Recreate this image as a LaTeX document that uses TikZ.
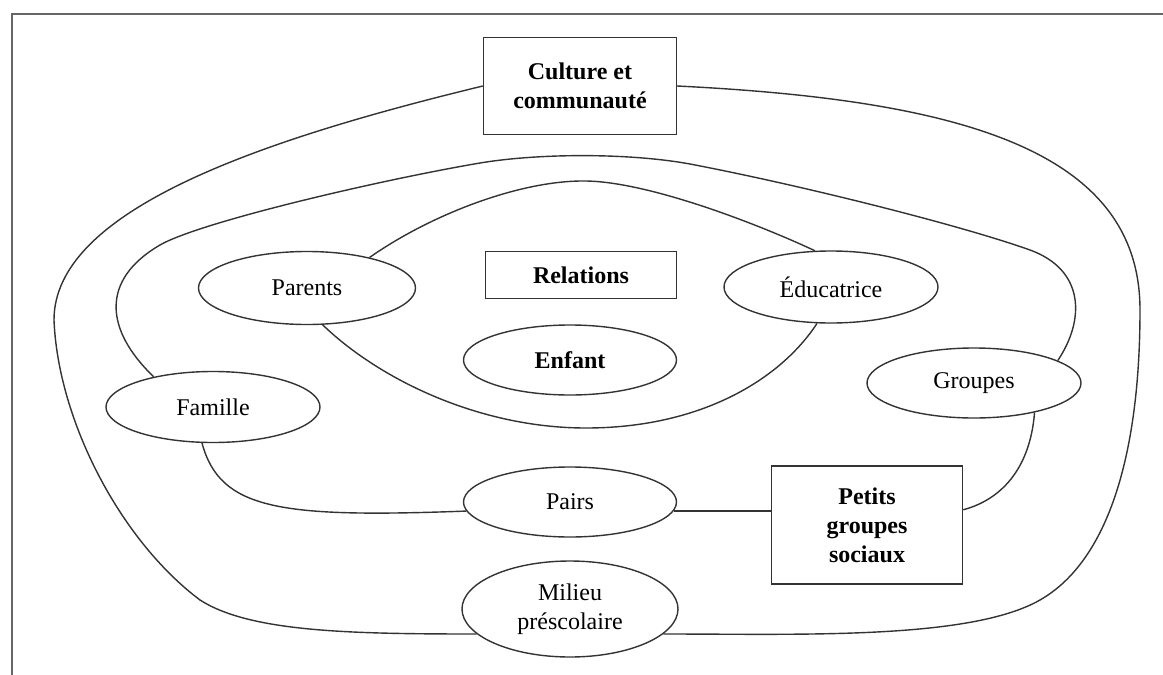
\documentclass[tikz,border=0pt]{standalone}
\usepackage{fontspec}
\setmainfont{Liberation Serif}
\usepackage{tikz}
\usetikzlibrary{shapes.geometric}

\begin{document}
\begin{tikzpicture}[x=0.5pt,y=-0.5pt,
		trait/.style={line width=0.7pt,draw=black!80},
		bulle/.style={trait,ellipse,inner sep=0pt,align=center,minimum width=107pt,minimum height=35.5pt,font=\fontsize{12}{14.5}\selectfont},
		cadre/.style={trait,rectangle,inner sep=0pt,align=center,font=\fontsize{12}{14.5}\selectfont\bfseries}]
	\useasboundingbox (0,0) rectangle (1163,675);
	\draw[trait,draw=black!60] (1163,14) -- (12,14) -- (12,675);

	\node[cadre,minimum width=96.5pt,minimum height=48.5pt] (culture) at (580,86) {Culture et\\communauté};
	\node[cadre,minimum width=95.5pt,minimum height=23.5pt] (relations) at (581,275) {Relations};
	\node[cadre,minimum width=95.5pt,minimum height=59pt] (petits) at (867,525) {Petits\\groupes\\sociaux};

	\node[bulle,minimum width=108.5pt,minimum height=36.5pt] (parents) at (307,288) {Parents};
	\node[bulle,minimum height=36pt] (educatrice) at (831,287) {Éducatrice};
	\node[bulle,minimum width=106.5pt,minimum height=35pt,font=\fontsize{12}{14.5}\selectfont\bfseries] (enfant) at (570,360) {Enfant};
	\node[bulle] (famille) at (213,407) {Famille};
	\node[bulle,minimum height=35pt] (groupes) at (974,383) {Groupes};
	\node[bulle,minimum width=106.5pt,minimum height=35pt] (pairs) at (570,502) {Pairs};
	\node[bulle,minimum width=108pt,minimum height=48pt] (milieu) at (570,609) {Milieu\\préscolaire};

	\draw[trait] (culture.west) .. controls (260,140) and (54,210) .. (54,320)
		.. controls (58,420) and (120,540) .. (200,600)
		.. controls (250,632) and (350,634) .. (milieu.195);
	\draw[trait] (culture.east) .. controls (960,100) and (1140,150) .. (1140,310)
		.. controls (1140,450) and (1110,560) .. (1040,600)
		.. controls (970,640) and (800,634) .. (milieu.-15);

	\draw[trait] (famille.153) .. controls (105,330) and (100,280) .. (160,245)
		.. controls (200,222) and (380,180) .. (480,163)
		.. controls (540,153) and (630,153) .. (690,164)
		.. controls (800,185) and (960,225) .. (1030,250)
		.. controls (1085,270) and (1085,320) .. (groupes.15);

	\draw[trait] (parents.26) .. controls (430,215) and (520,180) .. (586,181)
		.. controls (650,182) and (760,225) .. (educatrice.114);
	\draw[trait] (parents.-67) .. controls (380,380) and (480,428) .. (586,428)
		.. controls (700,428) and (780,380) .. (educatrice.-111);

	\draw[trait] (famille.-107) .. controls (220,510) and (280,518) .. (pairs.185);
	\draw[trait] (pairs.-5) -- (pairs.-5 -| petits.west);
	\draw[trait] (petits.9) .. controls (1000,500) and (1030,470) .. (groupes.-26);
\end{tikzpicture}
\end{document}
